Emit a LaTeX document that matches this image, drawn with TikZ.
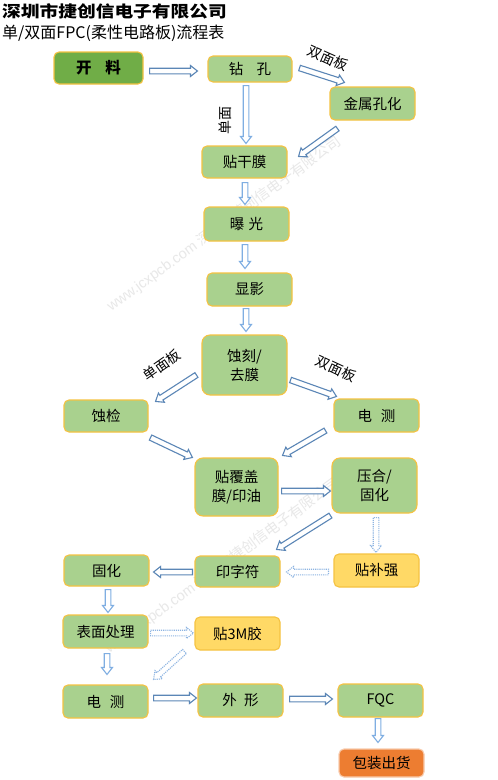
\documentclass[tikz,border=0pt]{standalone}
\usepackage{fontspec}
\usetikzlibrary{calc}
\newfontfamily\cjk{Noto Sans CJK SC}
\newfontfamily\latinsans{Liberation Sans}
\definecolor{boxgreen}{HTML}{A9D18E}
\definecolor{darkgreen}{HTML}{70AD47}
\definecolor{boxyellow}{HTML}{FFD966}
\definecolor{boxorange}{HTML}{ED7D31}
\definecolor{boxborder}{HTML}{F5C242}
\definecolor{orangeborder}{HTML}{F8CBAD}
\definecolor{arrdark}{HTML}{5B86B6}
\definecolor{arrlight}{HTML}{7FAEE2}
\definecolor{arrdot}{HTML}{8DB4E2}
\definecolor{wmark}{HTML}{E8E8E8}
\tikzset{
  box/.style={draw=boxborder, line width=1.1pt, fill=boxgreen, rounded corners=5pt,
    minimum width=85pt, minimum height=33pt, inner sep=0pt, align=center,
    font=\cjk\fontsize{14.5}{19}\selectfont},
  startbox/.style={box, fill=darkgreen, font=\cjk\bfseries\fontsize{15.5}{19}\selectfont},
  yellowbox/.style={box, fill=boxyellow},
  orangebox/.style={box, fill=boxorange, draw=orangeborder},
  arrowsolid/.style={draw=arrdark, fill=white, line width=1.1pt, line join=miter},
  arrowlight/.style={arrowsolid, draw=arrlight},
  arrowdot/.style={arrowsolid, draw=arrdot, densely dotted},
  tag/.style={font=\cjk\fontsize{14}{16}\selectfont, inner sep=0pt},
  wm/.style={text=wmark, font=\latinsans\fontsize{14.5}{16}\selectfont, inner sep=0pt, rotate=36}
}
\newcommand\blockarrow[3][]{%
  \coordinate (bas) at #2;
  \coordinate (bae) at #3;
  \coordinate (bah) at ($(bae)!7pt!(bas)$);
  \draw[arrowsolid,#1] ($(bas)!2.8pt!90:(bae)$) -- ($(bah)!2.8pt!-90:(bas)$)
    -- ($(bah)!5.5pt!-90:(bas)$) -- (bae) -- ($(bah)!5.5pt!90:(bas)$)
    -- ($(bah)!2.8pt!90:(bas)$) -- ($(bas)!2.8pt!-90:(bae)$) -- cycle;}
\begin{document}
\begin{tikzpicture}[x=1pt,y=-1pt]
\fill[white] (0,0) rectangle (498,780);
\useasboundingbox (0,0) rectangle (498,780);
% watermarks
\node[wm] (wm1) at (224,224) {www.jcxpcb.com {\cjk 深圳市捷创信电子有限公司}};
\node[wm] (wm2) at (222,566) {www.jcxpcb.com {\cjk 深圳市捷创信电子有限公司}};
% title
\node[anchor=west, inner sep=0pt, font=\cjk\bfseries\fontsize{16}{18}\selectfont] (t1) at (2,11)
  {\scalebox{1.17}[1]{深圳市捷创信电子有限公司}};
\node[anchor=west, inner sep=0pt, font=\cjk\fontsize{16}{18}\selectfont] (t2) at (2,33)
  {单/双面FPC(柔性电路板)流程表};
% boxes
\node[startbox, minimum width=89pt, minimum height=32pt] (kl) at (98.5,68) {开\hspace{0.9em}料};
\node[box, minimum width=84pt, minimum height=26pt] (zk) at (250,69) {钻\hspace{0.9em}孔};
\node[box] (jsh) at (372.5,103.5) {金属孔化};
\node[box, minimum height=32pt] (tgm) at (244.5,162) {贴干膜};
\node[box, minimum height=34pt] (bg) at (246.5,224) {曝\hspace{0.3em}光};
\node[box] (xy) at (249.5,289.5) {显影};
\node[box, minimum height=60pt, rounded corners=8pt] (sk) at (244.5,365) {蚀刻/\\去膜};
\node[box] (dc1) at (376.5,415.5) {电\hspace{0.6em}测};
\node[box, minimum width=84pt, minimum height=32pt] (sj) at (106,416) {蚀检};
\node[box, minimum width=83pt, minimum height=58pt, rounded corners=8pt] (tfg) at (236.5,487) {贴覆盖\\膜/印油};
\node[box, minimum height=55pt, rounded corners=8pt] (yh) at (374.5,485.5) {压合/\\固化};
\node[yellowbox] (tbq) at (376.5,570.5) {贴补强};
\node[box, minimum height=31pt] (yzf) at (237.5,571.5) {印字符};
\node[box, minimum height=31pt] (gh) at (106.5,570.5) {固化};
\node[box] (bmcl) at (105.5,631.5) {表面处理};
\node[yellowbox] (t3m) at (237.5,633.5) {贴3M胶};
\node[box] (dc2) at (105.5,701.5) {电\hspace{0.6em}测};
\node[box] (wx) at (240.5,700.5) {外\hspace{0.5em}形};
\node[box] (fqc) at (380.5,700.5) {FQC};
\node[orangebox, minimum height=28pt] (bz) at (381.5,763) {包装出货};
% labels
\node[tag, rotate=-24] (l1) at (328,58) {双面板};
\node[tag, rotate=90] (l2) at (225,120) {单面};
\node[tag, rotate=35] (l3) at (162,365) {单面板};
\node[tag, rotate=-25] (l4) at (336,369) {双面板};
% arrows
\blockarrow{($(kl.east)+(6,3)$)}{($(zk.west)+(-10,2)$)}
\blockarrow{($(zk.east)+(7,-1)$)}{($(jsh.north west)+(15,-4)$)}
\blockarrow[arrowlight]{($(zk.south)+(-4,3)$)}{($(tgm.north)+(1.5,-2)$)}
\blockarrow{($(jsh.south west)+(8,8)$)}{($(tgm.north east)+(11,11)$)}
\blockarrow[arrowlight]{($(tgm.south)+(0.5,4)$)}{($(bg.north)+(-1.5,-2)$)}
\blockarrow[arrowlight]{($(bg.south)+(-1.5,3)$)}{($(xy.north)+(-4.5,-4)$)}
\blockarrow[arrowlight]{($(xy.south)+(-3.5,2)$)}{($(sk.north)+(1.5,-3)$)}
\blockarrow{($(sk.west)+(-5,10)$)}{($(sj.north east)+(7,2)$)}
\blockarrow{($(sk.east)+(3,15)$)}{($(dc1.north west)+(3,-2)$)}
\blockarrow{($(sj.south east)+(2,5)$)}{($(tfg.north west)+(-2,0)$)}
\blockarrow{($(dc1.south west)+(-8,-2)$)}{($(tfg.north east)+(4,-2)$)}
\blockarrow{($(tfg.east)+(3,4)$)}{($(yh.west)+(-1,5.5)$)}
\blockarrow{($(yh.south west)+(-1,2)$)}{($(yzf.north east)+(-4,-6)$)}
\blockarrow[arrowdot]{($(yh.south)+(1.5,4)$)}{($(tbq.north)+(-0.5,-1)$)}
\blockarrow[arrowdot]{($(tbq.west)+(-5,1.5)$)}{($(yzf.east)+(6,0.5)$)}
\blockarrow{($(yzf.west)+(-2,0.5)$)}{($(gh.east)+(4,1.5)$)}
\blockarrow[arrowlight]{($(gh.south)+(1.5,3)$)}{($(bmcl.north)+(2.5,-2)$)}
\blockarrow[arrowdot]{($(bmcl.east)+(2,1.5)$)}{($(t3m.west)+(-1,-0.5)$)}
\blockarrow[arrowdot]{($(t3m.south west)+(-10,1)$)}{($(dc2.north east)+(5,-5)$)}
\blockarrow[arrowlight]{($(bmcl.south)+(1.5,5)$)}{($(dc2.north)+(1.5,-10)$)}
\blockarrow{($(dc2.east)+(5,-3.5)$)}{($(wx.west)+(-1,-2.5)$)}
\blockarrow{($(wx.east)+(6,-1.5)$)}{($(fqc.west)+(-5,-1.5)$)}
\blockarrow[arrowlight]{($(fqc.south)+(-2.5,1)$)}{($(bz.north)+(-3.5,-6)$)}
\end{tikzpicture}
\end{document}
